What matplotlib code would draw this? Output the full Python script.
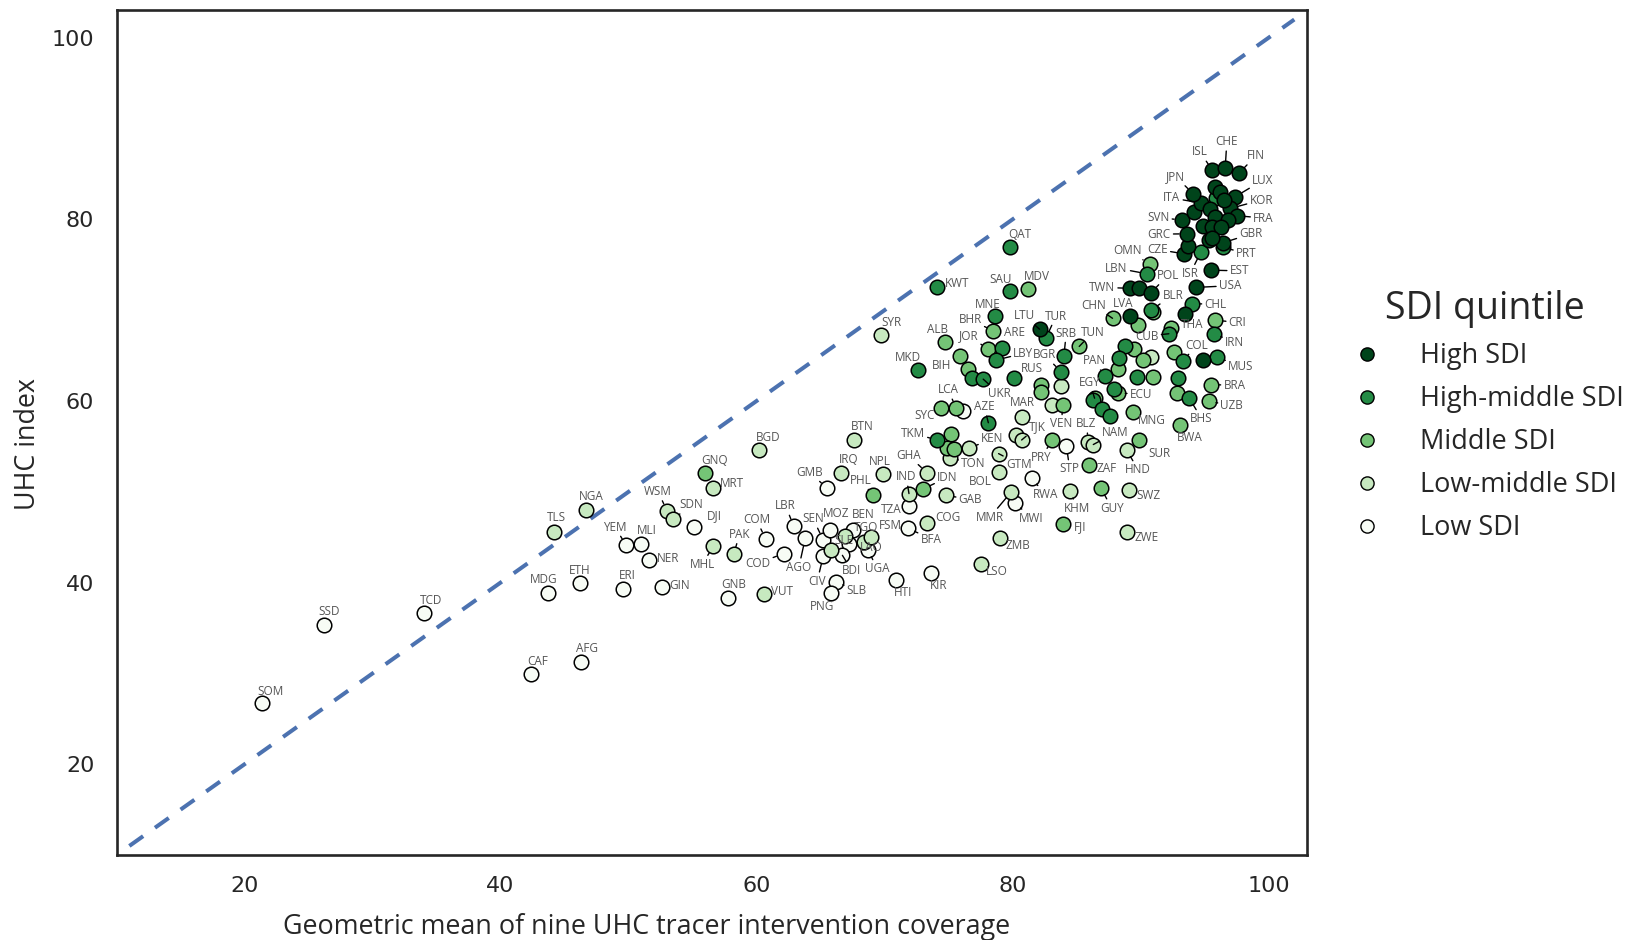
import numpy as np
import matplotlib.pyplot as plt
from matplotlib.lines import Line2D

# SDI groups and colours (Greens)
groups = ['High SDI', 'High-middle SDI', 'Middle SDI', 'Low-middle SDI', 'Low SDI']
colors = ['#00441b', '#238b45', '#74c476', '#c7e9c0', '#f7fcf5']

# High SDI
h_iso = ['LTU', 'LVA', '', '', 'TWN', '', 'POL', 'USA', 'EST', 'CZE', '', 'GRC', 'SVN', '',
         'ITA', 'JPN', 'ISL', 'CHE', 'FIN', 'LUX', 'KOR', 'FRA', 'GBR', '', '', '', '', '',
         '', '', '', '', '', '']
h_x = [82.1, 89.2, 93.5, 94.9, 89.2, 89.9, 90.8, 94.3, 95.5, 93.4, 93.7, 93.6, 93.2, 94.2,
       94.7, 94.1, 95.6, 96.6, 97.7, 97.4, 97.0, 97.5, 96.4, 95.8, 96.2, 96.5, 95.4, 95.8,
       96.8, 94.9, 95.6, 96.3, 95.3, 95.6]
h_y = [67.9, 69.3, 69.6, 64.5, 72.4, 72.4, 71.9, 72.5, 74.4, 76.2, 77.1, 78.4, 79.9, 80.8,
       81.8, 82.8, 85.4, 85.6, 85.1, 82.5, 81.2, 80.4, 77.4, 83.6, 83.0, 82.1, 81.1, 80.2,
       79.9, 79.3, 79.2, 79.2, 77.7, 77.9]

# High-middle SDI
hm_iso = ['TKM', 'AZE', 'MKD', 'QAT', 'KWT', 'SAU', 'MNE', 'ARE', 'LBY', '', 'UKR', 'RUS',
          'TUR', 'SRB', 'BGR', 'PAN', '', '', '', '', '', '', '', 'CUB', 'COL', '', 'BHS',
          'MUS', 'IRN', 'CHL', 'BLR', 'LBN', 'ISR', 'PRT', '']
hm_x = [74.1, 78.1, 72.6, 79.8, 74.1, 79.8, 78.6, 79.2, 78.7, 76.8, 77.7, 80.1,
        82.6, 84.0, 83.8, 87.2, 86.3, 87.0, 87.6, 87.9, 89.7, 88.8, 88.3, 92.2, 93.3, 92.9, 93.8,
        96.0, 95.7, 94.0, 90.8, 90.5, 94.7, 96.4, 95.9]
hm_y = [55.7, 57.6, 63.4, 77.0, 72.5, 72.1, 69.3, 65.8, 64.5, 62.5, 62.4, 62.5,
        66.9, 64.9, 63.2, 62.7, 60.1, 59.1, 58.3, 61.3, 62.6, 66.1, 64.7, 67.4, 64.4, 62.5, 60.3,
        64.8, 67.4, 70.7, 70.0, 74.0, 76.4, 76.9, 82.4]

# Middle SDI
m_iso = ['GNQ', 'PHL', 'IDN', '', '', '', 'SYC', 'LCA', 'MDV', 'BHR', 'ALB', 'JOR', 'BIH', '',
         '', '', 'PRY', 'VEN', 'TUN', 'CHN', 'EGY', 'ECU', '', '', '', '', 'ZAF', 'GUY', 'FJI',
         'SUR', 'MNG', 'BWA', '', 'UZB', 'BRA', 'OMN', '', 'THA', 'CRI', '', '']
m_x = [56.0, 69.1, 73.0, 75.2, 74.9, 75.4, 74.4, 75.6, 81.2, 78.5, 74.7, 78.1, 75.9, 76.5,
       82.2, 82.2, 83.1, 83.9, 85.2, 87.8, 86.4, 88.2, 88.2, 89.5, 90.2, 91.0, 86.0, 86.9, 83.9,
       89.9, 89.4, 93.1, 92.8, 95.3, 95.5, 90.7, 89.8, 92.4, 95.8, 92.6, 91.0]
m_y = [52.1, 49.6, 50.3, 56.4, 54.8, 54.7, 59.2, 59.2, 72.3, 67.7, 66.5, 65.7, 64.9, 63.5,
       61.8, 61.0, 55.7, 59.6, 66.0, 69.1, 60.3, 60.9, 63.5, 65.7, 64.5, 62.6, 52.9, 50.4, 46.4,
       55.7, 58.8, 57.3, 60.9, 60.0, 61.8, 75.1, 68.4, 68.0, 68.9, 65.4, 69.8]

# Low-middle SDI
lm_iso = ['TLS', 'NGA', 'WSM', 'SDN', 'MRT', 'BGD', 'MHL', 'PAK', 'VUT', '', 'SLE', 'LAO',
          'FSM', 'BTN', 'IRQ', 'NPL', 'IND', 'GHA', 'GAB', 'COG', 'TON', 'KEN', 'SYR', 'GTM',
          'BOL', '', 'TJK', 'MAR', '', 'MMR', 'ZMB', 'LSO', 'KHM', 'BLZ', 'NAM', 'HND', 'SWZ',
          'ZWE', '', '']
lm_x = [44.2, 46.7, 53.0, 53.5, 56.6, 60.2, 56.6, 58.2, 60.6, 65.8, 66.9, 68.4,
        68.9, 67.6, 66.6, 69.9, 71.9, 73.3, 74.8, 73.3, 75.1, 76.6, 69.7, 78.9,
        78.9, 80.3, 80.7, 80.7, 83.1, 79.9, 79.0, 77.5, 84.5, 85.9, 86.3, 88.9, 89.1,
        88.9, 83.8, 90.8]
lm_y = [45.6, 48.0, 47.9, 47.0, 50.4, 54.6, 44.0, 43.1, 38.7, 43.6, 45.1, 44.5,
        45.0, 55.7, 52.1, 52.0, 49.8, 52.1, 49.6, 46.6, 53.7, 54.8, 67.3, 54.2,
        52.2, 56.3, 55.7, 58.2, 59.5, 50.0, 44.9, 42.0, 50.1, 55.5, 55.2, 54.6, 50.2,
        45.6, 61.7, 64.8]

# Low SDI
l_iso = ['SOM', 'SSD', 'TCD', 'CAF', 'MDG', 'AFG', 'ETH', 'YEM', 'MLI', 'NER', 'ERI', 'GIN',
         'DJI', 'COM', 'COD', 'GNB', 'LBR', 'AGO', 'GMB', 'SEN', 'CIV', 'MOZ', 'BEN', 'TGO',
         'BDI', 'UGA', 'SLB', 'PNG', 'TZA', 'BFA', 'HTI', 'KIR', '', 'RWA', 'MWI', 'STP']
l_x = [21.4, 26.2, 34.0, 42.4, 43.7, 46.3, 46.2, 49.8, 51.0, 51.6, 49.6, 52.6,
       55.1, 60.7, 62.1, 57.8, 62.9, 63.8, 65.5, 65.2, 65.2, 65.7, 67.5, 67.2,
       66.7, 68.7, 66.2, 65.8, 71.9, 71.8, 70.9, 73.6, 76.1, 81.5, 80.2, 84.2]
l_y = [26.7, 35.3, 36.7, 29.9, 38.9, 31.3, 40.0, 44.1, 44.2, 42.5, 39.3, 39.5,
       46.1, 44.8, 43.2, 38.3, 46.2, 44.9, 50.4, 44.7, 42.9, 45.8, 45.8, 44.3,
       43.0, 43.6, 40.1, 38.8, 48.4, 46.0, 40.3, 41.1, 58.9, 51.5, 48.8, 55.0]

series = [(h_iso, h_x, h_y), (hm_iso, hm_x, hm_y), (m_iso, m_x, m_y),
          (lm_iso, lm_x, lm_y), (l_iso, l_x, l_y)]

# label placement (offset of text centre from point, in points)
label_pos = {
    'SOM': (5.5, 8.4), 'SSD': (3.6, 9.6), 'TCD': (5.3, 8.6), 'CAF': (4.3, 9.4), 'MDG': (-3.4, 9.6),
    'TLS': (1.7, 10), 'AFG': (4.5, 9.7), 'ETH': (0, 8.4), 'NGA': (3.6, 9.6), 'YEM': (-7.9, 13.2),
    'MLI': (3.8, 10), 'NER': (13.9, 1.2), 'ERI': (3.1, 9.6), 'GIN': (12.5, 1), 'WSM': (-6.5, 13.9),
    'SDN': (13.2, 10.3), 'DJI': (14.4, 8.6), 'GNQ': (6.5, 8.6), 'MRT': (13.9, 3.4), 'BGD': (6.5, 9.1),
    'MHL': (-7.7, -13.2), 'PAK': (4.3, 14.4), 'COM': (-6.5, 13.9), 'COD': (-18.5, -7.2),
    'GNB': (3.6, 9.4), 'VUT': (12.5, 2.4), 'LBR': (-5.8, 14.6), 'AGO': (-4.6, -21),
    'GMB': (-12.7, 11.5), 'SEN': (-7.2, 15.1), 'CIV': (-4.3, -18), 'PNG': (-6.7, -9.4),
    'MOZ': (5, 12), 'BEN': (7.4, 11), 'FSM': (14.6, 8.2), 'SLE': (-1, -3.4), 'LAO': (5.2, -4.5),
    'TGO': (12.2, 11.8), 'BDI': (6.7, -11), 'UGA': (6.7, -13.7), 'SLB': (15, -6.7), 'HTI': (5.3, -9.1),
    'TZA': (-12.7, -2.2), 'BFA': (16.8, -7.9), 'BTN': (5.8, 10), 'IRQ': (5.3, 9.6), 'NPL': (-2.9, 8.6),
    'PHL': (-8.9, 11), 'GHA': (-13.4, 12.5), 'IND': (-1.9, 12), 'IDN': (17.5, 8.4), 'GAB': (17.5, -2.9),
    'COG': (15, 3.6), 'TKM': (-17.5, 4.8), 'TON': (16.8, -3.6), 'KEN': (16.6, 6.7), 'AZE': (-2.9, 11.5),
    'SYC': (-12, -5.5), 'GTM': (14.5, -7.5), 'BOL': (-13.2, -6.7), 'TJK': (11.3, 9.4),
    'PRY': (-8.0, -12.7), 'STP': (2.4, -16.3), 'RWA': (9.6, -12), 'MMR': (-15.6, -18.5),
    'MWI': (11.5, -11.3), 'ZMB': (13.2, -5), 'LSO': (11.8, -5.3), 'KIR': (6, -9.6), 'KHM': (4.8, -12.5),
    'FJI': (12.5, -1.7), 'VEN': (-0.7, -13.9), 'BLZ': (-1.2, 13), 'NAM': (15.6, 8.4), 'MAR': (0.7, 10.3),
    'ZAF': (12.5, -2.2), 'GUY': (7.7, -14.4), 'ZWE': (14.4, -4), 'SWZ': (13.7, -4), 'HND': (8.4, -14.4),
    'SUR': (14.4, -9.8), 'MNG': (13.4, -6.2), 'BWA': (6.7, -8.9), 'BHS': (8.9, -14.9),
    'UZB': (16.8, -3.6), 'BRA': (16.8, -0.5), 'EGY': (-3.6, 11.5), 'ECU': (16.8, -1.2),
    'UKR': (11.3, -10.3), 'RUS': (13, 7.2), 'LCA': (-6, 13.2), 'QAT': (7.2, 8.4), 'KWT': (14.4, 3.1),
    'SAU': (-7.2, 8.4), 'MDV': (6.7, 9.1), 'SYR': (7.7, 9.1), 'MNE': (-4.8, 8.9), 'BHR': (-16.8, 8.4),
    'ALB': (-5.3, 9.1), 'JOR': (-14.4, 9.6), 'ARE': (8.6, 11.5), 'LBY': (19.7, 4.8), 'MKD': (-7.2, 8.9),
    'BIH': (-13.7, -6.7), 'LTU': (-10.8, 9.6), 'TUR': (7.2, 16), 'SRB': (1.7, 16.8), 'TUN': (9.6, 10),
    'BGR': (-12.2, 12.2), 'PAN': (-7.7, 11.3), 'CHN': (-13.7, 9.4), 'ISL': (-8.9, 13.2),
    'CHE': (1.2, 19.2), 'FIN': (12, 12.5), 'JPN': (-12.5, 12.5), 'LUX': (19.7, 11.8), 'ITA': (-20.9, 3.6),
    'KOR': (22.3, 6), 'FRA': (19.2, -1.7), 'SVN': (-16.8, 2.2), 'GRC': (-19.9, -0.2), 'GBR': (20.4, 6.5),
    'PRT': (17, -4.1), 'CZE': (-19.2, 3.1), 'ISR': (-7.7, -15.6), 'OMN': (-16.1, 9.6),
    'LBN': (-22, 4.1), 'EST': (20.4, -0.5), 'TWN': (-20.4, 0.7), 'POL': (12, 12.5), 'USA': (24.7, 1.2),
    'BLR': (16, 10.8), 'CHL': (17, -0.2), 'LVA': (-5.5, 9.6), 'CRI': (16.3, -1.7), 'IRN': (15.1, -6),
    'THA': (14.9, 2.4), 'CUB': (-15.8, -1.7), 'COL': (10, 11.5), 'MUS': (16.8, -6.5),
}
# labels sitting next to their point without a leader line
no_line = {'COG', 'KWT', 'NER', 'GIN', 'MRT', 'VUT', 'FJI', 'ZAF', 'ZWE', 'BWA', 'THA', 'ARE',
           'MOZ', 'BEN', 'FSM', 'TGO', 'SLE', 'LAO', 'TZA', 'HTI', 'KIR', 'PNG', 'DJI'}

xticks = [20, 40, 60, 80, 100]
yticks = [20, 40, 60, 80, 100]

plt.rcParams['font.family'] = ['Open Sans', 'DejaVu Sans']

fig = plt.figure(figsize=(16.3, 9.4), dpi=100)
ax = fig.add_axes([0.0715, 0.0904, 0.7304, 0.8985])

# y = x reference line
ax.plot([11, 102], [11, 102], ls=(0, (4.2, 3.6)), lw=2.9, color='#4c72b0', zorder=1)

# draw low first so high SDI ends up on top
for (iso, xs, ys), col in reversed(list(zip(series, colors))):
    ax.scatter(xs, ys, s=110, c=col, edgecolors='black', linewidths=1.1, zorder=3)

R = 5.5  # marker radius in points
for (iso, xs, ys) in series:
    for code, xv, yv in zip(iso, xs, ys):
        if not code:
            continue
        dx, dy = label_pos.get(code, (0, 9))
        dist = np.hypot(dx, dy)
        # distance from text centre to edge of its box along the leader direction
        t = min(9.0 / abs(dx) if dx else 1e9, 5.5 / abs(dy) if dy else 1e9) * dist
        arrow = None
        if code not in no_line and dist - t - R > 0:
            arrow = dict(arrowstyle='-', color='black', lw=1.0, shrinkA=0, shrinkB=R)
        ax.annotate(code, (xv, yv), xytext=(dx, dy), textcoords='offset points',
                    ha='center', va='center', fontsize=8.5, color='#555555',
                    arrowprops=arrow, zorder=4)

ax.set_xlim(10, 103)
ax.set_ylim(10, 103)
ax.set_xticks(xticks)
ax.set_yticks(yticks)
for lab in ax.get_xticklabels() + ax.get_yticklabels():
    lab.set_family('DejaVu Sans')
ax.tick_params(length=0, labelsize=16, colors='#262626')
ax.tick_params(axis='x', pad=15)
ax.tick_params(axis='y', pad=16)
for sp in ax.spines.values():
    sp.set_linewidth(1.9)
    sp.set_color('#262626')

ax.set_xlabel('Geometric mean of nine UHC tracer intervention coverage', fontsize=19.4,
              color='#262626')
ax.xaxis.set_label_coords(0.4456, -0.0687)
ax.set_ylabel('UHC index', fontsize=19.4, color='#262626')
ax.yaxis.set_label_coords(-0.0626, 0.4866)

handles = [Line2D([], [], ls='', marker='o', markersize=9.5, markerfacecolor=c,
                  markeredgecolor='black', markeredgewidth=1.0) for c in colors]
leg = ax.legend(handles, groups, title='SDI quintile', loc='upper left',
                bbox_to_anchor=(0.826, 0.692), bbox_transform=fig.transFigure,
                frameon=False, fontsize=19.5, title_fontsize=27, handlelength=1.5,
                handletextpad=1.2, labelspacing=0.55, borderaxespad=0, borderpad=0)
for t in leg.get_texts():
    t.set_color('#262626')
leg.get_title().set_color('#262626')

fig.savefig('out.png', dpi=100)
